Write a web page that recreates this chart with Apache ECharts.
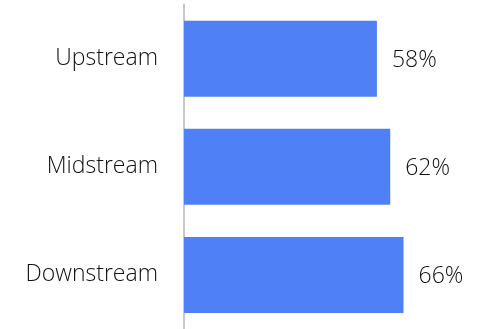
<!DOCTYPE html>
<html>
<head>
<meta charset="utf-8">
<script src="https://cdn.jsdelivr.net/npm/echarts@6/dist/echarts.min.js"></script>
<style>
  html, body { margin: 0; padding: 0; background: #ffffff; }
  #chart { width: 494px; height: 329px; }
</style>
</head>
<body>
<div id="chart"></div>
<script>
// Share of respondents by value-chain segment
const categories = ['Upstream', 'Midstream', 'Downstream'];
const shares = [58, 62, 66];

const chart = echarts.init(document.getElementById('chart'), null, { renderer: 'canvas' });

chart.setOption({
  animation: false,
  backgroundColor: '#ffffff',
  grid: { left: 184, top: 4.6, right: 0, bottom: -3, containLabel: false },
  xAxis: {
    type: 'value',
    min: 0,
    max: 93.2,
    show: false
  },
  yAxis: {
    type: 'category',
    data: categories,
    inverse: true,
    axisLine: { show: true, lineStyle: { color: '#c8c8c8', width: 2 } },
    axisTick: { show: false },
    axisLabel: {
      margin: 26,
      padding: [4, 0, 0, 0],
      color: '#111111',
      fontFamily: 'Open Sans',
      fontWeight: 300,
      fontSize: 23
    }
  },
  series: [{
    type: 'bar',
    data: shares,
    barWidth: 76,
    itemStyle: { color: '#4f80f6' },
    label: {
      show: true,
      position: 'right',
      distance: 15,
      offset: [0, 2],
      formatter: p => p.value + '%',
      color: '#111111',
      fontFamily: 'Open Sans',
      fontWeight: 300,
      fontSize: 23
    }
  }]
});
</script>
</body>
</html>
